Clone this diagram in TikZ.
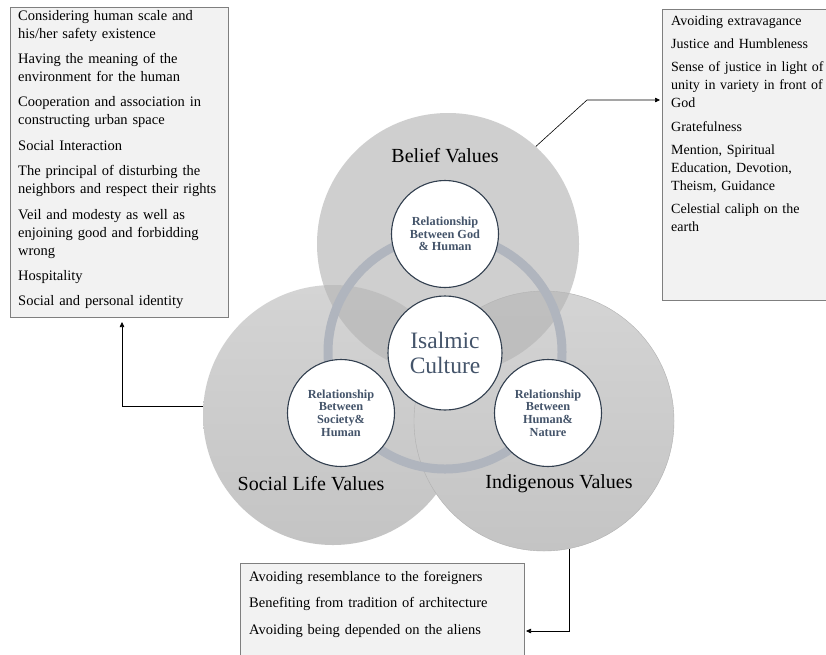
\documentclass[tikz,border=0pt]{standalone}
\usepackage{fontspec}
\setmainfont{Liberation Serif}
\usetikzlibrary{arrows.meta}
\definecolor{boxfill}{HTML}{F2F2F2}
\definecolor{boxline}{HTML}{7F7F7F}
\definecolor{circtop}{HTML}{D4D4D4}
\definecolor{circbot}{HTML}{C4C4C4}
\definecolor{beliefc}{HTML}{B4B4B4}
\definecolor{ringc}{HTML}{B0B5BE}
\definecolor{navy}{HTML}{323F4F}
\definecolor{slate}{HTML}{44546A}
\tikzset{
  bigcirc/.style={circle, minimum size=260pt, inner sep=0pt},
  smallcirc/.style={circle, draw=navy, line width=1.1pt, fill=white, minimum size=107pt, inner sep=0pt,
     text=slate, align=center, font=\fontsize{12.3}{12.8}\selectfont\bfseries},
  valuelabel/.style={anchor=base, inner sep=0pt, font=\fontsize{20}{24}\selectfont},
  boxst/.style={draw=boxline, line width=0.8pt, fill=boxfill, inner sep=0pt},
  txt/.style={anchor=base west, inner sep=0pt, align=left, font=\fontsize{14.5}{18}\selectfont},
  arr/.style={draw=black, line width=0.6pt, -{Triangle[length=5pt,width=4.5pt]}}
}
\begin{document}
\begin{tikzpicture}[x=1pt,y=-1pt]
\useasboundingbox (0,0) rectangle (826,654);
\fill[white] (0,0) rectangle (826,654);

% big circles
\node[bigcirc, top color=circtop, bottom color=circbot] (social) at (333,415) {};
\node[bigcirc, top color=circtop, bottom color=circbot, draw=circbot!90!black, line width=0.4pt] (indig) at (544,421) {};
\node[bigcirc, minimum size=262pt, fill=beliefc, fill opacity=0.64] (belief) at (448,244) {};

% ring
\draw[ringc, line width=9pt] (445,352) circle[radius=117pt];

% inner circles
\node[circle, draw=navy, line width=1.1pt, fill=white, minimum size=114pt, inner sep=0pt,
      text=slate, align=center, font=\fontsize{23.5}{25}\selectfont] (culture) at (445,353) {Isalmic\\Culture};
\node[smallcirc] (god) at (445,234) {Relationship\\Between God\\\& Human};
\node[smallcirc] (soc) at (341,413) {Relationship\\Between\\Society\&\\Human};
\node[smallcirc] (nat) at (548,413) {Relationship\\Between\\Human\&\\Nature};

% labels
\node[valuelabel] (lbelief) at (445,162) {Belief Values};
\node[valuelabel] (lsocial) at (311,490) {Social Life Values};
\node[valuelabel] (lindig) at (559,488) {Indigenous Values};

% boxes
\node[boxst, minimum width=218pt, minimum height=310pt, anchor=north west] (leftbox) at (10,7) {};
\node[boxst, minimum width=180pt, minimum height=291pt, anchor=north west] (rightbox) at (662,9) {};
\node[boxst, minimum width=284pt, minimum height=110pt, anchor=north west] (botbox) at (240,563) {};

\node[txt, text width=210pt] (lefttxt) at (18,20) {Considering human scale and\\his/her safety existence\\[7.4pt]
Having the meaning of the\\environment for the human\\[7.4pt]
Cooperation and association in\\constructing urban space\\[7.4pt]
Social Interaction\\[7.4pt]
The principal of disturbing the\\neighbors and respect their rights\\[7.4pt]
Veil and modesty as well as\\enjoining good and forbidding\\wrong\\[7.4pt]
Hospitality\\[7.4pt]
Social and personal identity};

\node[txt, text width=170pt, font=\fontsize{14}{18}\selectfont] (righttxt) at (671,25.5) {Avoiding extravagance\\[5.2pt]
Justice and Humbleness\\[5.2pt]
Sense of justice in light of\\unity in variety in front of\\God\\[5.2pt]
Gratefulness\\[5.2pt]
Mention, Spiritual\\Education, Devotion,\\Theism, Guidance\\[5.2pt]
Celestial caliph on the\\earth};

\node[txt, text width=260pt] (bottxt) at (249,581.5) {Avoiding resemblance to the foreigners\\[8.3pt]
Benefiting from tradition of architecture\\[8.3pt]
Avoiding being depended on the aliens};

% connectors
\coordinate (leftin) at (122,322);
\coordinate (bendr) at (587,100);
\coordinate (rightin) at (660,100);
\coordinate (botin) at (526,631);
\draw[arr] (social.176) -| (leftin);
\draw[arr] (belief.48) -- (bendr) -- (rightin);
\draw[arr] (indig.-79) |- (botin);
\end{tikzpicture}
\end{document}
